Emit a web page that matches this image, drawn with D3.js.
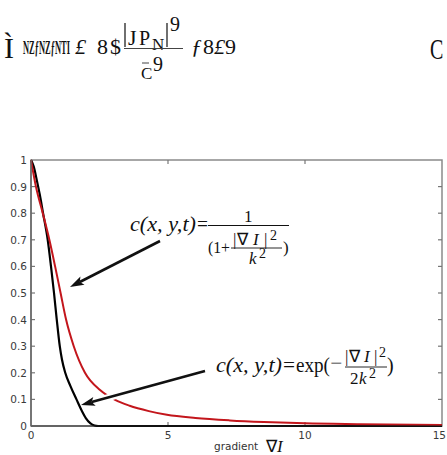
<!DOCTYPE html>
<html><head><meta charset="utf-8">
<script src="https://cdn.jsdelivr.net/npm/d3@7/dist/d3.min.js"></script>
<style>body{margin:0;background:#fff}svg{display:block}</style>
</head><body>
<script>
// ---- data ----
const xTicks = [0, 5, 10, 15];
const yTicks = [0, 0.1, 0.2, 0.3, 0.4, 0.5, 0.6, 0.7, 0.8, 0.9, 1];
const yTickLabels = ["0","0.1","0.2","0.3","0.4","0.5","0.6","0.7","0.8","0.9","1"];
// exp(-|∇I|²/2k²) curve (black)
const blackX = [0, 0.1, 0.22, 0.32, 0.44, 0.61, 0.73, 0.84, 0.94, 1.05, 1.13, 1.25, 1.44, 1.66, 1.84, 2.0, 2.17, 2.32, 2.45, 5, 10, 15];
const blackY = [1, 0.975, 0.92, 0.87, 0.8, 0.7, 0.6, 0.5, 0.4, 0.3, 0.25, 0.2, 0.15, 0.1, 0.06, 0.03, 0.01, 0.002, 0, 0, 0, 0];
// 1/(1+|∇I|²/k²) curve (red)
const redX = [0, 0.18, 0.43, 0.67, 0.88, 1.08, 1.28, 1.56, 1.97, 2.52, 3.07, 3.6, 4.3, 4.96, 6, 7.26, 8.5, 10, 12, 15];
const redY = [1, 0.9, 0.8, 0.7, 0.6, 0.5, 0.4, 0.3, 0.2, 0.135, 0.098, 0.076, 0.056, 0.042, 0.03, 0.021, 0.015, 0.01, 0.007, 0.004];

const W = 447, H = 455;
const svg = d3.select("body").append("svg").attr("width", W).attr("height", H);

// helper: one text element made of positioned tspans
function multi(parent, family, parts) {
  const t = parent.append("text").attr("font-family", family).attr("fill", "#111");
  parts.forEach(p => {
    const s = t.append("tspan").attr("x", p.x).attr("y", p.y).attr("font-size", p.s).text(p.t);
    if (p.len) s.attr("textLength", p.len).attr("lengthAdjust", "spacingAndGlyphs");
    if (p.i) s.attr("font-style", "italic");
    if (p.b) s.attr("font-weight", "bold");
  });
  return t;
}

// ---- garbled header formula (as in the picture) ----
const hdr = svg.append("g");
const serif = "Liberation Serif, Times New Roman, serif";
hdr.append("text").attr("font-family", serif).attr("font-weight", "bold").attr("font-size", 8.5)
  .attr("fill", "#111").attr("transform", "translate(23,54) scale(1,2.3)")
  .attr("textLength", 47).attr("lengthAdjust", "spacingAndGlyphs").text("NZƒNZƒNTI");
hdr.append("text").attr("font-family", serif).attr("font-size", 20).attr("fill", "#111")
  .attr("transform", "translate(430,59) scale(1,1.45)").text("C");
multi(hdr, serif, [
  {t: "Ì", x: 4, y: 58, s: 30},
  {t: "£", x: 75, y: 54, s: 22, i: true},
  {t: "8", x: 97, y: 54, s: 22},
  {t: "$", x: 110, y: 54, s: 22},
  {t: "J", x: 128, y: 45, s: 22},
  {t: "P", x: 139, y: 45, s: 20},
  {t: "N", x: 152, y: 50, s: 17},
  {t: "9", x: 170, y: 31, s: 20},
  {t: "C", x: 141, y: 79, s: 17},
  {t: "9", x: 153, y: 71, s: 20},
  {t: "ƒ", x: 191, y: 54, s: 22, i: true},
  {t: "8", x: 203, y: 54, s: 22},
  {t: "£", x: 214, y: 54, s: 22, i: true},
  {t: "9", x: 225, y: 54, s: 22}
]);
hdr.append("line").attr("x1", 125).attr("x2", 125).attr("y1", 23).attr("y2", 47).attr("stroke", "#222").attr("stroke-width", 1.3);
hdr.append("line").attr("x1", 167).attr("x2", 167).attr("y1", 23).attr("y2", 47).attr("stroke", "#222").attr("stroke-width", 1.3);
hdr.append("line").attr("x1", 124).attr("x2", 183).attr("y1", 48.5).attr("y2", 48.5).attr("stroke", "#444").attr("stroke-width", 1);
hdr.append("line").attr("x1", 142).attr("x2", 149).attr("y1", 63).attr("y2", 63).attr("stroke", "#444").attr("stroke-width", 1);

// ---- chart ----
const x = d3.scaleLinear().domain([0, 15]).range([31, 442]);
const y = d3.scaleLinear().domain([0, 1]).range([426, 160]);

svg.append("rect").attr("x", x(0)).attr("y", y(1)).attr("width", x(15) - x(0)).attr("height", y(0) - y(1))
  .attr("fill", "none").attr("stroke", "#8a8a8a").attr("stroke-width", 1.5);

// ticks (inward)
const tk = svg.append("g").attr("stroke", "#777").attr("stroke-width", 1.2);
yTicks.slice(1, -1).forEach(v => {
  tk.append("line").attr("x1", x(0)).attr("x2", x(0) + 4).attr("y1", y(v)).attr("y2", y(v));
  tk.append("line").attr("x1", x(15)).attr("x2", x(15) - 4).attr("y1", y(v)).attr("y2", y(v));
});
xTicks.slice(1, -1).forEach(v => {
  tk.append("line").attr("x1", x(v)).attr("x2", x(v)).attr("y1", y(1)).attr("y2", y(1) + 4);
  tk.append("line").attr("x1", x(v)).attr("x2", x(v)).attr("y1", y(0)).attr("y2", y(0) - 4);
});

// tick labels
const lab = svg.append("g").attr("font-family", "DejaVu Sans, sans-serif").attr("font-size", 10.5).attr("fill", "#3a3a3a");
yTicks.forEach((v, i) => {
  lab.append("text").attr("x", x(0) - 4).attr("y", y(v) + 4).attr("text-anchor", "end").text(yTickLabels[i]);
});
xTicks.forEach((v, i) => {
  const last = i === xTicks.length - 1;
  lab.append("text").attr("x", last ? W - 1 : x(v)).attr("y", y(0) + 13)
    .attr("text-anchor", last ? "end" : "middle").text(String(v));
});

// curves
const blackPts = blackX.map((d, i) => [d, blackY[i]]);
const redPts = redX.map((d, i) => [d, redY[i]]);
const line = d3.line().x(d => x(d[0])).y(d => y(d[1])).curve(d3.curveMonotoneX);
svg.append("path").attr("d", line(blackPts)).attr("fill", "none").attr("stroke", "#000").attr("stroke-width", 2.2);
svg.append("path").attr("d", line(redPts)).attr("fill", "none").attr("stroke", "#c3161c").attr("stroke-width", 2);

svg.append("line").attr("x1", x(0)).attr("x2", x(15)).attr("y1", y(0)).attr("y2", y(0)).attr("stroke", "#222").attr("stroke-width", 1.2);
svg.append("line").attr("x1", x(0)).attr("x2", x(0)).attr("y1", y(0)).attr("y2", y(1)).attr("stroke", "#666").attr("stroke-width", 1.5);

// arrows
function arrow(x1, y1, x2, y2, halo) {
  const g = svg.append("g");
  const ang = Math.atan2(y2 - y1, x2 - x1);
  const L = 14, Wd = 4.5;
  const bx = x2 - L * Math.cos(ang), by = y2 - L * Math.sin(ang);
  if (halo) g.append("line").attr("x1", x1).attr("y1", y1).attr("x2", bx).attr("y2", by)
      .attr("stroke", "#fff").attr("stroke-width", 7);
  g.append("line").attr("x1", x1).attr("y1", y1).attr("x2", bx + 3 * Math.cos(ang)).attr("y2", by + 3 * Math.sin(ang))
    .attr("stroke", "#111").attr("stroke-width", 2.6);
  const px = -Math.sin(ang), py = Math.cos(ang);
  g.append("path").attr("d", `M${x2},${y2}L${bx + px * Wd},${by + py * Wd}L${bx + 3*Math.cos(ang)},${by + 3*Math.sin(ang)}L${bx - px * Wd},${by - py * Wd}Z`)
    .attr("fill", "#111");
}
arrow(160, 241, 70, 287, false);
arrow(205, 371, 81, 405, true);

// formulas
const f = svg.append("g");
multi(f, serif, [
  {t: "c(x, y,t)", x: 130, y: 231, s: 20, len: 66, i: true},
  {t: "=", x: 197, y: 231, s: 20, len: 11},
  {t: "1", x: 244, y: 222, s: 17},
  {t: "(1+", x: 208, y: 253, s: 17, len: 22},
  {t: "|", x: 233, y: 245, s: 17},
  {t: "∇", x: 237, y: 245, s: 17},
  {t: "I", x: 253, y: 245, s: 17, i: true},
  {t: "|", x: 264, y: 245, s: 17},
  {t: "2", x: 270, y: 240, s: 14},
  {t: "k", x: 249, y: 264, s: 17, i: true},
  {t: "2", x: 259, y: 258, s: 14},
  {t: ")", x: 283, y: 253, s: 17}
]);
f.append("line").attr("x1", 208).attr("x2", 289).attr("y1", 225.5).attr("y2", 225.5).attr("stroke", "#111").attr("stroke-width", 1);
f.append("line").attr("x1", 231).attr("x2", 282).attr("y1", 248).attr("y2", 248).attr("stroke", "#111").attr("stroke-width", 0.9);

multi(f, serif, [
  {t: "c(x, y,t)", x: 216, y: 372, s: 20, len: 66, i: true},
  {t: "=", x: 283, y: 372, s: 20, len: 12},
  {t: "exp(", x: 296, y: 372, s: 20, len: 34},
  {t: "−", x: 330, y: 368, s: 15, len: 12},
  {t: "|", x: 345, y: 362, s: 17},
  {t: "∇", x: 349, y: 362, s: 17},
  {t: "I", x: 364, y: 362, s: 17, i: true},
  {t: "|", x: 374, y: 362, s: 17},
  {t: "2", x: 379, y: 357, s: 14},
  {t: "2", x: 350, y: 384, s: 17},
  {t: "k", x: 359, y: 384, s: 17, i: true},
  {t: "2", x: 369, y: 378, s: 14},
  {t: ")", x: 387, y: 372, s: 20}
]);
f.append("line").attr("x1", 345).attr("x2", 387).attr("y1", 367).attr("y2", 367).attr("stroke", "#111").attr("stroke-width", 0.9);

// x axis label
svg.append("text").attr("x", 214).attr("y", 450).attr("font-family", "DejaVu Sans, sans-serif")
  .attr("font-size", 10.5).attr("fill", "#333").text("gradient");
multi(svg, serif, [
  {t: "∇", x: 266, y: 452, s: 17},
  {t: "I", x: 277, y: 452, s: 17, i: true}
]);
</script>
</body></html>
